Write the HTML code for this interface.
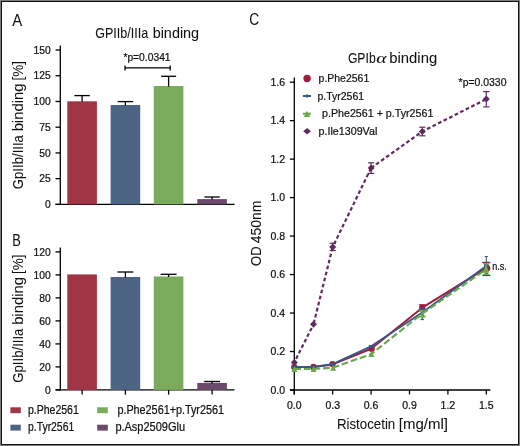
<!DOCTYPE html>
<html><head><meta charset="utf-8"><style>
html,body{margin:0;padding:0;background:#fff;width:520px;height:446px;overflow:hidden}
svg{display:block;will-change:transform}
text{font-family:"Liberation Sans", sans-serif;fill:#111;stroke:#111;stroke-width:0.22px}
.big text,text.big{stroke-width:0.05px}
</style></head><body>
<svg width="520" height="446" viewBox="0 0 520 446">
<rect width="520" height="446" fill="#fff"/>
<rect x="0.5" y="0.5" width="519" height="445" fill="none" stroke="#7d7d7d" stroke-width="1"/>
<rect x="1.5" y="1.5" width="517" height="443" fill="none" stroke="#111" stroke-width="1"/>
<text x="12.2" y="25.6" font-size="16.5" text-anchor="start" textLength="10" lengthAdjust="spacingAndGlyphs" class="big" >A</text>
<text x="12.2" y="245.9" font-size="16.5" text-anchor="start" textLength="8.6" lengthAdjust="spacingAndGlyphs" class="big" >B</text>
<text x="249.3" y="25.45" font-size="17" text-anchor="start" textLength="9.9" lengthAdjust="spacingAndGlyphs" class="big" >C</text>
<text x="95.17" y="37.9" font-size="14.3" text-anchor="start" textLength="53.03" lengthAdjust="spacingAndGlyphs" class="big" >GPIIb/IIIa</text>
<text x="152.67" y="37.9" font-size="14.3" text-anchor="start" textLength="46.46" lengthAdjust="spacingAndGlyphs" class="big" >binding</text>
<line x1="60.3" y1="45.6" x2="60.3" y2="205.0" stroke="#000" stroke-width="1.3" />
<line x1="55.5" y1="204.4" x2="234.6" y2="204.4" stroke="#000" stroke-width="1.3" />
<line x1="55.5" y1="204.4" x2="60.3" y2="204.4" stroke="#000" stroke-width="1.3" />
<text x="50.8" y="208.0" font-size="10.3" text-anchor="end" >0</text>
<line x1="55.5" y1="178.66666666666669" x2="60.3" y2="178.66666666666669" stroke="#000" stroke-width="1.3" />
<text x="50.8" y="182.26666666666668" font-size="10.3" text-anchor="end" >25</text>
<line x1="55.5" y1="152.93333333333334" x2="60.3" y2="152.93333333333334" stroke="#000" stroke-width="1.3" />
<text x="50.8" y="156.53333333333333" font-size="10.3" text-anchor="end" >50</text>
<line x1="55.5" y1="127.2" x2="60.3" y2="127.2" stroke="#000" stroke-width="1.3" />
<text x="50.8" y="130.8" font-size="10.3" text-anchor="end" >75</text>
<line x1="55.5" y1="101.46666666666667" x2="60.3" y2="101.46666666666667" stroke="#000" stroke-width="1.3" />
<text x="50.8" y="105.06666666666666" font-size="10.3" text-anchor="end" >100</text>
<line x1="55.5" y1="75.73333333333332" x2="60.3" y2="75.73333333333332" stroke="#000" stroke-width="1.3" />
<text x="50.8" y="79.33333333333331" font-size="10.3" text-anchor="end" >125</text>
<line x1="55.5" y1="50.0" x2="60.3" y2="50.0" stroke="#000" stroke-width="1.3" />
<text x="50.8" y="53.6" font-size="10.3" text-anchor="end" >150</text>
<g class="big" transform="translate(23.1,188.5) rotate(-90)"><text x="-0.66" y="0" font-size="15" textLength="54.06" lengthAdjust="spacingAndGlyphs">GpIIb/IIIa</text><text x="57.14" y="0" font-size="15" textLength="47.81" lengthAdjust="spacingAndGlyphs">binding</text><text x="108.04" y="0" font-size="15" textLength="19.42" lengthAdjust="spacingAndGlyphs">[%]</text></g>
<rect x="67.3" y="101.3" width="29.6" height="103.10000000000001" fill="#A03545"/>
<line x1="82.1" y1="95.6" x2="82.1" y2="101.8" stroke="#000" stroke-width="1.3" />
<line x1="74.39999999999999" y1="95.6" x2="89.8" y2="95.6" stroke="#000" stroke-width="1.3" />
<rect x="110.60000000000001" y="105.0" width="29.6" height="99.4" fill="#4E6485"/>
<line x1="125.4" y1="101.6" x2="125.4" y2="105.5" stroke="#000" stroke-width="1.3" />
<line x1="117.65" y1="101.6" x2="133.15" y2="101.6" stroke="#000" stroke-width="1.3" />
<rect x="153.79999999999998" y="86.0" width="29.6" height="118.4" fill="#7AAA5C"/>
<line x1="168.6" y1="76.3" x2="168.6" y2="86.5" stroke="#000" stroke-width="1.3" />
<line x1="161.1" y1="76.3" x2="176.1" y2="76.3" stroke="#000" stroke-width="1.3" />
<rect x="197.29999999999998" y="199.1" width="29.6" height="5.300000000000011" fill="#6B4A6C"/>
<line x1="212.1" y1="197.0" x2="212.1" y2="199.6" stroke="#000" stroke-width="1.3" />
<line x1="204.45" y1="197.0" x2="219.75" y2="197.0" stroke="#000" stroke-width="1.3" />
<line x1="125" y1="67.9" x2="170.2" y2="67.9" stroke="#000" stroke-width="1.3" />
<line x1="125" y1="65.4" x2="125" y2="70.6" stroke="#000" stroke-width="1.3" />
<line x1="170.2" y1="65.4" x2="170.2" y2="70.6" stroke="#000" stroke-width="1.3" />
<text x="123.4" y="60.9" font-size="10.2" text-anchor="start" textLength="47.2" lengthAdjust="spacingAndGlyphs" >*p=0.0341</text>
<line x1="60.3" y1="247.4" x2="60.3" y2="390.5" stroke="#000" stroke-width="1.3" />
<line x1="55.5" y1="389.9" x2="234.5" y2="389.9" stroke="#000" stroke-width="1.3" />
<line x1="55.5" y1="389.9" x2="60.3" y2="389.9" stroke="#000" stroke-width="1.3" />
<text x="50.8" y="393.5" font-size="10.3" text-anchor="end" >0</text>
<line x1="55.5" y1="366.9" x2="60.3" y2="366.9" stroke="#000" stroke-width="1.3" />
<text x="50.8" y="370.5" font-size="10.3" text-anchor="end" >20</text>
<line x1="55.5" y1="343.9" x2="60.3" y2="343.9" stroke="#000" stroke-width="1.3" />
<text x="50.8" y="347.5" font-size="10.3" text-anchor="end" >40</text>
<line x1="55.5" y1="320.9" x2="60.3" y2="320.9" stroke="#000" stroke-width="1.3" />
<text x="50.8" y="324.5" font-size="10.3" text-anchor="end" >60</text>
<line x1="55.5" y1="297.9" x2="60.3" y2="297.9" stroke="#000" stroke-width="1.3" />
<text x="50.8" y="301.5" font-size="10.3" text-anchor="end" >80</text>
<line x1="55.5" y1="274.9" x2="60.3" y2="274.9" stroke="#000" stroke-width="1.3" />
<text x="50.8" y="278.5" font-size="10.3" text-anchor="end" >100</text>
<line x1="55.5" y1="251.89999999999998" x2="60.3" y2="251.89999999999998" stroke="#000" stroke-width="1.3" />
<text x="50.8" y="255.49999999999997" font-size="10.3" text-anchor="end" >120</text>
<g class="big" transform="translate(23.1,382.0) rotate(-90)"><text x="-0.66" y="0" font-size="15" textLength="54.06" lengthAdjust="spacingAndGlyphs">GpIIb/IIIa</text><text x="57.14" y="0" font-size="15" textLength="47.81" lengthAdjust="spacingAndGlyphs">binding</text><text x="108.04" y="0" font-size="15" textLength="19.42" lengthAdjust="spacingAndGlyphs">[%]</text></g>
<rect x="67.3" y="274.4" width="29.6" height="115.5" fill="#A03545"/>
<line x1="82.1" y1="389.9" x2="82.1" y2="394.6" stroke="#000" stroke-width="1.3" />
<rect x="110.60000000000001" y="277.0" width="29.6" height="112.89999999999998" fill="#4E6485"/>
<line x1="125.4" y1="272.0" x2="125.4" y2="277.5" stroke="#000" stroke-width="1.3" />
<line x1="117.55000000000001" y1="272.0" x2="133.25" y2="272.0" stroke="#000" stroke-width="1.3" />
<line x1="125.4" y1="389.9" x2="125.4" y2="394.6" stroke="#000" stroke-width="1.3" />
<rect x="153.79999999999998" y="276.5" width="29.6" height="113.39999999999998" fill="#7AAA5C"/>
<line x1="168.6" y1="274.3" x2="168.6" y2="277.0" stroke="#000" stroke-width="1.3" />
<line x1="160.6" y1="274.3" x2="176.6" y2="274.3" stroke="#000" stroke-width="1.3" />
<line x1="168.6" y1="389.9" x2="168.6" y2="394.6" stroke="#000" stroke-width="1.3" />
<rect x="197.29999999999998" y="382.9" width="29.6" height="7.0" fill="#6B4A6C"/>
<line x1="212.1" y1="381.5" x2="212.1" y2="383.4" stroke="#000" stroke-width="1.3" />
<line x1="204.2" y1="381.5" x2="220.0" y2="381.5" stroke="#000" stroke-width="1.3" />
<line x1="212.1" y1="389.9" x2="212.1" y2="394.6" stroke="#000" stroke-width="1.3" />
<rect x="10.4" y="407.3" width="10.4" height="5.9" fill="#A03545"/>
<text x="28.0" y="413.6" font-size="12" text-anchor="start" textLength="50.8" lengthAdjust="spacingAndGlyphs" >p.Phe2561</text>
<rect x="10.4" y="424.7" width="10.4" height="5.9" fill="#4E6485"/>
<text x="28.0" y="431.1" font-size="12" text-anchor="start" textLength="46.2" lengthAdjust="spacingAndGlyphs" >p.Tyr2561</text>
<rect x="97.2" y="407.3" width="10.6" height="5.9" fill="#7AAA5C"/>
<text x="117.4" y="413.6" font-size="12" text-anchor="start" textLength="106.6" lengthAdjust="spacingAndGlyphs" >p.Phe2561+p.Tyr2561</text>
<rect x="97.2" y="424.7" width="10.6" height="5.9" fill="#6B4A6C"/>
<text x="115.4" y="431.1" font-size="12" text-anchor="start" textLength="69.6" lengthAdjust="spacingAndGlyphs" >p.Asp2509Glu</text>
<text x="347.89" y="63" font-size="14.3" text-anchor="start" textLength="27.83" lengthAdjust="spacingAndGlyphs" class="big" >GPIb</text>
<text x="376.26" y="63" font-size="14.3" text-anchor="start" textLength="10.26" lengthAdjust="spacingAndGlyphs" class="big" font-family="Liberation Serif" font-style="italic" style="font-family:Liberation Serif">α</text>
<text x="389.34" y="63" font-size="14.3" text-anchor="start" textLength="47.81" lengthAdjust="spacingAndGlyphs" class="big" >binding</text>
<line x1="294.3" y1="77.4" x2="294.3" y2="394.4" stroke="#000" stroke-width="1.3" />
<line x1="289.9" y1="390.0" x2="490.4" y2="390.0" stroke="#000" stroke-width="1.3" />
<line x1="289.9" y1="390.0" x2="294.3" y2="390.0" stroke="#000" stroke-width="1.3" />
<text x="285.0" y="393.8" font-size="10.5" text-anchor="end" >0.0</text>
<line x1="289.9" y1="351.52" x2="294.3" y2="351.52" stroke="#000" stroke-width="1.3" />
<text x="285.0" y="355.32" font-size="10.5" text-anchor="end" >0.2</text>
<line x1="289.9" y1="313.03999999999996" x2="294.3" y2="313.03999999999996" stroke="#000" stroke-width="1.3" />
<text x="285.0" y="316.84" font-size="10.5" text-anchor="end" >0.4</text>
<line x1="289.9" y1="274.55999999999995" x2="294.3" y2="274.55999999999995" stroke="#000" stroke-width="1.3" />
<text x="285.0" y="278.35999999999996" font-size="10.5" text-anchor="end" >0.6</text>
<line x1="289.9" y1="236.07999999999998" x2="294.3" y2="236.07999999999998" stroke="#000" stroke-width="1.3" />
<text x="285.0" y="239.88" font-size="10.5" text-anchor="end" >0.8</text>
<line x1="289.9" y1="197.6" x2="294.3" y2="197.6" stroke="#000" stroke-width="1.3" />
<text x="285.0" y="201.4" font-size="10.5" text-anchor="end" >1.0</text>
<line x1="289.9" y1="159.11999999999995" x2="294.3" y2="159.11999999999995" stroke="#000" stroke-width="1.3" />
<text x="285.0" y="162.91999999999996" font-size="10.5" text-anchor="end" >1.2</text>
<line x1="289.9" y1="120.63999999999999" x2="294.3" y2="120.63999999999999" stroke="#000" stroke-width="1.3" />
<text x="285.0" y="124.43999999999998" font-size="10.5" text-anchor="end" >1.4</text>
<line x1="289.9" y1="82.15999999999997" x2="294.3" y2="82.15999999999997" stroke="#000" stroke-width="1.3" />
<text x="285.0" y="85.95999999999997" font-size="10.5" text-anchor="end" >1.6</text>
<line x1="294.3" y1="390.0" x2="294.3" y2="394.4" stroke="#000" stroke-width="1.3" />
<text x="294.3" y="408.7" font-size="10.5" text-anchor="middle" >0.0</text>
<line x1="332.7" y1="390.0" x2="332.7" y2="394.4" stroke="#000" stroke-width="1.3" />
<text x="332.7" y="408.7" font-size="10.5" text-anchor="middle" >0.3</text>
<line x1="371.1" y1="390.0" x2="371.1" y2="394.4" stroke="#000" stroke-width="1.3" />
<text x="371.1" y="408.7" font-size="10.5" text-anchor="middle" >0.6</text>
<line x1="409.5" y1="390.0" x2="409.5" y2="394.4" stroke="#000" stroke-width="1.3" />
<text x="409.5" y="408.7" font-size="10.5" text-anchor="middle" >0.9</text>
<line x1="447.9" y1="390.0" x2="447.9" y2="394.4" stroke="#000" stroke-width="1.3" />
<text x="447.9" y="408.7" font-size="10.5" text-anchor="middle" >1.2</text>
<line x1="486.3" y1="390.0" x2="486.3" y2="394.4" stroke="#000" stroke-width="1.3" />
<text x="486.3" y="408.7" font-size="10.5" text-anchor="middle" >1.5</text>
<text x="336.91" y="428.8" font-size="14.4" text-anchor="start" textLength="58.35" lengthAdjust="spacingAndGlyphs" class="big" >Ristocetin</text>
<text x="398.73" y="428.8" font-size="14.4" text-anchor="start" textLength="49.24" lengthAdjust="spacingAndGlyphs" class="big" >[mg/ml]</text>
<g class="big" transform="translate(261.0,265.4) rotate(-90)"><text x="-0.62" y="0" font-size="15.4" textLength="19.65" lengthAdjust="spacingAndGlyphs">OD</text><text x="22.08" y="0" font-size="15.4" textLength="42.54" lengthAdjust="spacingAndGlyphs">450nm</text></g>
<polyline points="294.30,367.10 313.50,366.90 332.70,364.40 371.10,348.70 422.30,307.70 486.30,268.20" fill="none" stroke="#A01C3C" stroke-width="2.0" stroke-linejoin="round"/>
<circle cx="294.30" cy="367.1" r="3.2" fill="#A01C3C"/>
<circle cx="313.50" cy="366.9" r="3.2" fill="#A01C3C"/>
<circle cx="332.50" cy="364.1" r="3.2" fill="#A01C3C"/>
<circle cx="371.60" cy="348.7" r="3.2" fill="#A01C3C"/>
<circle cx="422.30" cy="307.7" r="3.2" fill="#A01C3C"/>
<circle cx="487.10" cy="268.2" r="3.2" fill="#A01C3C"/>
<line x1="422.3" y1="304.8" x2="422.3" y2="310.8" stroke="#A01C3C" stroke-width="1.2" />
<line x1="419.0" y1="304.8" x2="425.6" y2="304.8" stroke="#A01C3C" stroke-width="1.2" />
<line x1="419.0" y1="310.8" x2="425.6" y2="310.8" stroke="#A01C3C" stroke-width="1.2" />
<line x1="486.3" y1="262.4" x2="486.3" y2="275.5" stroke="#A01C3C" stroke-width="1.2" />
<line x1="482.3" y1="262.4" x2="490.3" y2="262.4" stroke="#A01C3C" stroke-width="1.2" />
<line x1="482.3" y1="275.5" x2="490.3" y2="275.5" stroke="#A01C3C" stroke-width="1.2" />
<polyline points="294.30,367.00 313.50,367.00 332.70,364.20 371.10,346.30 422.30,312.40 486.30,266.00" fill="none" stroke="#3A5687" stroke-width="1.85" stroke-linejoin="round"/>
<rect x="292.00" y="365.6" width="4.6" height="2.8" fill="#3A5687"/>
<rect x="311.20" y="365.6" width="4.6" height="2.8" fill="#3A5687"/>
<rect x="330.40" y="362.8" width="4.6" height="2.8" fill="#3A5687"/>
<rect x="368.80" y="345.0" width="4.6" height="2.8" fill="#3A5687"/>
<rect x="420.00" y="307.90000000000003" width="4.6" height="2.8" fill="#3A5687"/>
<rect x="484.00" y="264.20000000000005" width="4.6" height="2.8" fill="#3A5687"/>
<line x1="486.3" y1="256.5" x2="486.3" y2="273.5" stroke="#3A5687" stroke-width="1.1" />
<line x1="484.7" y1="256.5" x2="487.90000000000003" y2="256.5" stroke="#3A5687" stroke-width="1.1" />
<line x1="484.7" y1="273.5" x2="487.90000000000003" y2="273.5" stroke="#3A5687" stroke-width="1.1" />
<line x1="422.3" y1="309.5" x2="422.3" y2="319.5" stroke="#3A5687" stroke-width="1.1" />
<line x1="420.7" y1="319.5" x2="423.90000000000003" y2="319.5" stroke="#3A5687" stroke-width="1.3" />
<line x1="294.30" y1="369.00" x2="313.50" y2="369.00" stroke="#69A94D" stroke-width="2.1" stroke-dasharray="6.7 2.9" stroke-dashoffset="0"/>
<line x1="313.50" y1="369.00" x2="332.70" y2="367.70" stroke="#69A94D" stroke-width="2.1" stroke-dasharray="6.7 2.9" stroke-dashoffset="0"/>
<line x1="332.70" y1="367.70" x2="371.10" y2="354.20" stroke="#69A94D" stroke-width="2.1" stroke-dasharray="6.7 2.9" stroke-dashoffset="0"/>
<line x1="371.10" y1="354.20" x2="422.30" y2="313.60" stroke="#69A94D" stroke-width="2.1" stroke-dasharray="6.7 2.9" stroke-dashoffset="2.5"/>
<line x1="422.30" y1="313.60" x2="486.30" y2="269.30" stroke="#69A94D" stroke-width="2.1" stroke-dasharray="6.7 2.9" stroke-dashoffset="0"/>
<polygon points="294.30,365.90 291.30,371.90 297.30,371.90" fill="#69A94D"/>
<polygon points="313.50,365.90 310.50,371.90 316.50,371.90" fill="#69A94D"/>
<polygon points="333.10,364.70 330.10,370.70 336.10,370.70" fill="#69A94D"/>
<polygon points="371.40,351.10 368.40,357.10 374.40,357.10" fill="#69A94D"/>
<polygon points="422.50,311.50 419.50,317.50 425.50,317.50" fill="#69A94D"/>
<polygon points="486.00,264.50 482.70,272.80 489.30,272.80" fill="#69A94D"/>
<line x1="486.3" y1="263.7" x2="486.3" y2="274.5" stroke="#69A94D" stroke-width="1.2" />
<line x1="483.0" y1="263.7" x2="489.6" y2="263.7" stroke="#69A94D" stroke-width="1.2" />
<line x1="483.0" y1="274.5" x2="489.6" y2="274.5" stroke="#69A94D" stroke-width="1.2" />
<line x1="422.3" y1="310.6" x2="422.3" y2="316.6" stroke="#69A94D" stroke-width="1.1" />
<line x1="419.0" y1="310.6" x2="425.6" y2="310.6" stroke="#69A94D" stroke-width="1.1" />
<line x1="419.0" y1="316.6" x2="425.6" y2="316.6" stroke="#69A94D" stroke-width="1.1" />
<line x1="294.30" y1="362.40" x2="313.50" y2="324.30" stroke="#5E2D5E" stroke-width="2.2" stroke-dasharray="3.7 2.5" stroke-dashoffset="2.25"/>
<line x1="313.50" y1="324.30" x2="332.70" y2="246.90" stroke="#5E2D5E" stroke-width="2.2" stroke-dasharray="3.7 2.5" stroke-dashoffset="5.3"/>
<line x1="332.70" y1="246.90" x2="371.10" y2="168.00" stroke="#5E2D5E" stroke-width="2.2" stroke-dasharray="3.7 2.5" stroke-dashoffset="3.0"/>
<line x1="371.10" y1="168.00" x2="422.30" y2="131.50" stroke="#5E2D5E" stroke-width="2.2" stroke-dasharray="3.7 2.5" stroke-dashoffset="0.1"/>
<line x1="422.30" y1="131.50" x2="486.30" y2="99.10" stroke="#5E2D5E" stroke-width="2.2" stroke-dasharray="3.7 2.5" stroke-dashoffset="0.9"/>
<polygon points="294.30,358.90 297.80,362.40 294.30,365.90 290.80,362.40" fill="#5E2D5E"/>
<polygon points="313.50,320.80 317.00,324.30 313.50,327.80 310.00,324.30" fill="#5E2D5E"/>
<polygon points="332.70,243.40 336.20,246.90 332.70,250.40 329.20,246.90" fill="#5E2D5E"/>
<polygon points="371.10,164.50 374.60,168.00 371.10,171.50 367.60,168.00" fill="#5E2D5E"/>
<polygon points="422.30,128.00 425.80,131.50 422.30,135.00 418.80,131.50" fill="#5E2D5E"/>
<polygon points="486.30,95.60 489.80,99.10 486.30,102.60 482.80,99.10" fill="#5E2D5E"/>
<line x1="332.7" y1="243.3" x2="332.7" y2="250.5" stroke="#5E2D5E" stroke-width="1.2" />
<line x1="329.59999999999997" y1="243.3" x2="335.8" y2="243.3" stroke="#5E2D5E" stroke-width="1.2" />
<line x1="329.59999999999997" y1="250.5" x2="335.8" y2="250.5" stroke="#5E2D5E" stroke-width="1.2" />
<line x1="371.1" y1="162.8" x2="371.1" y2="173.4" stroke="#5E2D5E" stroke-width="1.2" />
<line x1="368.0" y1="162.8" x2="374.20000000000005" y2="162.8" stroke="#5E2D5E" stroke-width="1.2" />
<line x1="368.0" y1="173.4" x2="374.20000000000005" y2="173.4" stroke="#5E2D5E" stroke-width="1.2" />
<line x1="422.3" y1="127.2" x2="422.3" y2="135.8" stroke="#5E2D5E" stroke-width="1.2" />
<line x1="419.2" y1="127.2" x2="425.40000000000003" y2="127.2" stroke="#5E2D5E" stroke-width="1.2" />
<line x1="419.2" y1="135.8" x2="425.40000000000003" y2="135.8" stroke="#5E2D5E" stroke-width="1.2" />
<line x1="486.3" y1="91.6" x2="486.3" y2="106.9" stroke="#5E2D5E" stroke-width="1.2" />
<line x1="483.15000000000003" y1="91.6" x2="489.45" y2="91.6" stroke="#5E2D5E" stroke-width="1.2" />
<line x1="483.15000000000003" y1="106.9" x2="489.45" y2="106.9" stroke="#5E2D5E" stroke-width="1.2" />
<text x="458.6" y="85.6" font-size="10.2" text-anchor="start" textLength="47.9" lengthAdjust="spacingAndGlyphs" >*p=0.0330</text>
<text x="492.2" y="270.1" font-size="11" text-anchor="start" textLength="14.6" lengthAdjust="spacingAndGlyphs" >n.s.</text>
<circle cx="307.1" cy="78.55" r="3.7" fill="#A01C3C"/>
<text x="318.6" y="82.2" font-size="11.4" text-anchor="start" textLength="50.6" lengthAdjust="spacingAndGlyphs" >p.Phe2561</text>
<line x1="302.9" y1="96.0" x2="311" y2="96.0" stroke="#3A5687" stroke-width="2.0" />
<rect x="305.6" y="94.6" width="2.8" height="2.8" fill="#3A5687"/>
<text x="317.4" y="99.9" font-size="11.4" text-anchor="start" textLength="46.8" lengthAdjust="spacingAndGlyphs" >p.Tyr2561</text>
<polygon points="307,110.8 303.8,117 310.2,117" fill="#69A94D"/>
<line x1="302.9" y1="113.7" x2="311" y2="113.7" stroke="#69A94D" stroke-width="2.0" />
<text x="322.0" y="116.6" font-size="11.4" text-anchor="start" textLength="111.4" lengthAdjust="spacingAndGlyphs" >p.Phe2561 + p.Tyr2561</text>
<polygon points="307.1,127.9 311,131.2 307.1,134.5 303.2,131.2" fill="#5E2D5E"/>
<text x="318.5" y="134.8" font-size="11.4" text-anchor="start" textLength="58.8" lengthAdjust="spacingAndGlyphs" >p.Ile1309Val</text>
</svg>
</body></html>
